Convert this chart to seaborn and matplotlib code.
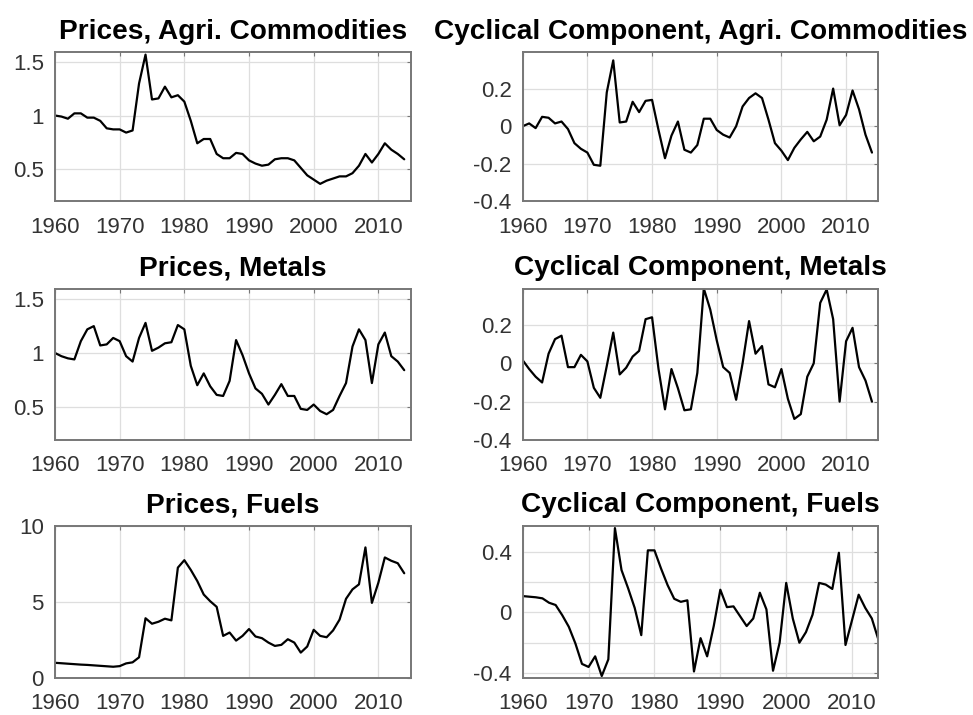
"""Commodity prices and their cyclical components, 1960-2014 (3x2 panel grid)."""

import matplotlib
matplotlib.use("Agg")

import matplotlib.pyplot as plt
import pandas as pd
import seaborn as sns

years = list(range(1960, 2015))

agri_price = [
    1.00, 0.99, 0.97, 1.02, 1.02, 0.98, 0.98, 0.95, 0.88, 0.87,
    0.87, 0.84, 0.86, 1.30, 1.57, 1.15, 1.16, 1.27, 1.17, 1.19,
    1.13, 0.95, 0.74, 0.78, 0.78, 0.64, 0.60, 0.60, 0.65, 0.64,
    0.58, 0.55, 0.53, 0.54, 0.59, 0.60, 0.60, 0.58, 0.51, 0.44,
    0.40, 0.36, 0.39, 0.41, 0.43, 0.43, 0.46, 0.53, 0.64, 0.56,
    0.64, 0.74, 0.68, 0.64, 0.59,
]
agri_cycle = [
    0.00, 0.015, -0.01, 0.05, 0.045, 0.015, 0.025, -0.015, -0.09, -0.12,
    -0.14, -0.205, -0.21, 0.18, 0.35, 0.02, 0.025, 0.13, 0.075, 0.135,
    0.14, -0.02, -0.17, -0.05, 0.025, -0.125, -0.14, -0.10, 0.04, 0.04,
    -0.02, -0.045, -0.06, 0.00, 0.105, 0.15, 0.175, 0.15, 0.035, -0.09,
    -0.13, -0.18, -0.115, -0.07, -0.03, -0.08, -0.055, 0.035, 0.20, 0.005,
    0.06, 0.19, 0.09, -0.045, -0.14,
]
metal_price = [
    1.00, 0.97, 0.95, 0.94, 1.11, 1.22, 1.25, 1.07, 1.08, 1.14,
    1.11, 0.97, 0.92, 1.14, 1.28, 1.02, 1.05, 1.09, 1.10, 1.26,
    1.22, 0.88, 0.70, 0.81, 0.69, 0.61, 0.60, 0.74, 1.12, 0.98,
    0.81, 0.67, 0.62, 0.52, 0.61, 0.71, 0.60, 0.60, 0.48, 0.47,
    0.52, 0.46, 0.43, 0.47, 0.60, 0.72, 1.06, 1.22, 1.12, 0.72,
    1.08, 1.19, 0.97, 0.92, 0.84,
]
metal_cycle = [
    0.016, -0.03, -0.07, -0.10, 0.05, 0.126, 0.144, -0.02, -0.02, 0.044,
    0.01, -0.128, -0.18, -0.014, 0.16, -0.058, -0.023, 0.035, 0.065, 0.23,
    0.24, -0.03, -0.24, -0.03, -0.13, -0.245, -0.24, -0.05, 0.39, 0.28,
    0.12, -0.02, -0.05, -0.19, 0.00, 0.22, 0.05, 0.09, -0.11, -0.125,
    -0.03, -0.185, -0.29, -0.265, -0.07, 0.00, 0.315, 0.385, 0.23, -0.20,
    0.115, 0.185, -0.02, -0.09, -0.20,
]
fuel_price = [
    0.97, 0.94, 0.91, 0.88, 0.85, 0.83, 0.80, 0.77, 0.74, 0.71,
    0.75, 0.93, 1.00, 1.33, 3.90, 3.54, 3.67, 3.87, 3.76, 7.23,
    7.72, 7.08, 6.35, 5.46, 5.02, 4.65, 2.74, 2.96, 2.43, 2.74,
    3.19, 2.70, 2.59, 2.30, 2.08, 2.15, 2.52, 2.30, 1.64, 2.04,
    3.14, 2.74, 2.65, 3.10, 3.81, 5.18, 5.80, 6.13, 8.56, 4.91,
    6.24, 7.90, 7.68, 7.52, 6.86,
]
fuel_cycle = [
    0.108, 0.104, 0.10, 0.093, 0.064, 0.049, -0.018, -0.095, -0.205, -0.34,
    -0.36, -0.29, -0.42, -0.31, 0.557, 0.28, 0.16, 0.03, -0.15, 0.41,
    0.41, 0.29, 0.18, 0.09, 0.07, 0.08, -0.39, -0.17, -0.29, -0.09,
    0.15, 0.035, 0.04, -0.025, -0.09, -0.04, 0.13, 0.02, -0.385, -0.20,
    0.195, -0.04, -0.20, -0.13, -0.015, 0.195, 0.184, 0.155, 0.394, -0.215,
    -0.05, 0.117, 0.03, -0.04, -0.18,
]

titles = [
    "Prices, Agri. Commodities", "Cyclical Component, Agri. Commodities",
    "Prices, Metals", "Cyclical Component, Metals",
    "Prices, Fuels", "Cyclical Component, Fuels",
]
series = [agri_price, agri_cycle, metal_price, metal_cycle, fuel_price, fuel_cycle]

x_ticks = [1960, 1970, 1980, 1990, 2000, 2010]
price_ticks = [0.5, 1.0, 1.5]
price_labels = ["0.5", "1", "1.5"]
cycle_ticks = [-0.4, -0.2, 0.0, 0.2]
cycle_labels = ["-0.4", "-0.2", "0", "0.2"]
fuel_ticks = [0, 5, 10]
fuel_labels = ["0", "5", "10"]
fuel_cycle_ticks = [-0.4, -0.2, 0.0, 0.2, 0.4]
fuel_cycle_labels = ["-0.4", "", "0", "", "0.4"]

yticks = [price_ticks, cycle_ticks, price_ticks, cycle_ticks, fuel_ticks, fuel_cycle_ticks]
ylabels = [price_labels, cycle_labels, price_labels, cycle_labels, fuel_labels, fuel_cycle_labels]

# layout (figure fractions)
col_x = [0.0565, 0.5372]
col_w = 0.3656
row_y = [0.7182, 0.3846, 0.0524]
row_h = [0.2084, 0.2119, 0.2126]
ylims = [(0.195, 1.59), (-0.40, 0.392), (0.19, 1.60), (-0.40, 0.39), (0, 10), (-0.43, 0.574)]
xlims = [(1960, 2015), (1960, 2015), (1960, 2015), (1960, 2015), (1960, 2015), (1960, 2014)]

sns.set_style("white")
plt.rcParams["font.family"] = ["Liberation Sans", "DejaVu Sans"]
plt.rcParams["axes.unicode_minus"] = False

fig = plt.figure(figsize=(9.73, 7.15), dpi=100)

box_color = "#777777"

for i, (title, values) in enumerate(zip(titles, series)):
    row, col = divmod(i, 2)
    ax = fig.add_axes([col_x[col], row_y[row], col_w, row_h[row]])
    df = pd.DataFrame({"year": years, "value": values})
    sns.lineplot(data=df, x="year", y="value", ax=ax, color="black", linewidth=1.6)

    ax.set_xlim(*xlims[i])
    ax.set_ylim(*ylims[i])
    ax.set_xticks(x_ticks)
    ax.set_xticklabels([str(t) for t in x_ticks])
    ax.set_yticks(yticks[i])
    ax.set_yticklabels(ylabels[i])
    ax.set_xlabel("")
    ax.set_ylabel("")

    ax.grid(True, color="#dedede", linewidth=0.9)
    ax.set_axisbelow(True)
    for spine in ax.spines.values():
        spine.set_color(box_color)
        spine.set_linewidth(1.4)
    ax.tick_params(axis="both", direction="in", length=3, width=0.8, color=box_color,
                   labelsize=16, labelcolor="#333333", top=True, right=True)
    ax.tick_params(axis="x", pad=11)
    ax.tick_params(axis="y", pad=8)
    ax.set_title(title, fontsize=20.2, fontweight="bold", pad=9.5, color="black")

fig.savefig("out.png", dpi=100)
